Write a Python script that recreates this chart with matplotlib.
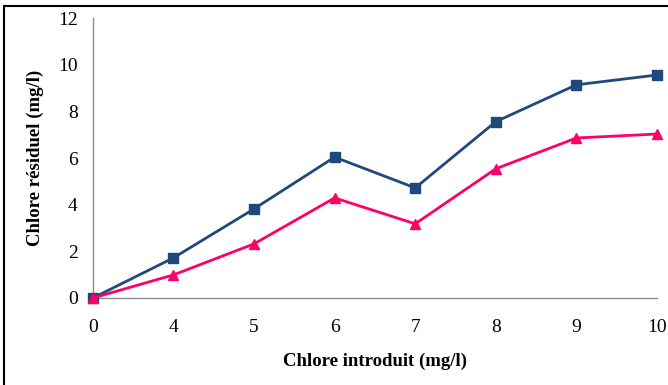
import numpy as np
import matplotlib.pyplot as plt
from matplotlib.patches import Rectangle

# Donnees
chlore_introduit = ["0", "4", "5", "6", "7", "8", "9", "10"]
residuel_1 = [0, 1.72, 3.82, 6.04, 4.72, 7.56, 9.14, 9.56]
residuel_2 = [0, 0.99, 2.32, 4.29, 3.18, 5.54, 6.86, 7.03]
yticks = [0, 2, 4, 6, 8, 10, 12]

plt.rcParams['font.family'] = ['Liberation Serif', 'DejaVu Serif']

fig = plt.figure(figsize=(6.68, 3.85), dpi=100)
ax = fig.add_axes([0.139, 0.226, 0.8445, 0.727])

x = np.arange(len(chlore_introduit))
ax.plot(x, residuel_1, color="#1F497D", lw=2, marker="s", ms=7, clip_on=False, zorder=3)
ax.plot(x, residuel_2, color="#FF0066", lw=2, marker="^", ms=7, clip_on=False, zorder=3)

ax.set_xlim(0, len(x) - 1)
ax.set_ylim(0, 12)
ax.set_xticks(x)
ax.set_xticklabels(chlore_introduit)
ax.set_yticks(yticks)
ax.tick_params(length=0, labelsize=14)
ax.tick_params(axis="x", pad=15)
ax.tick_params(axis="y", pad=11)

for s in ["top", "right"]:
    ax.spines[s].set_visible(False)
for s in ["left", "bottom"]:
    ax.spines[s].set_color("#8C8C8C")
    ax.spines[s].set_linewidth(1)

ax.set_xlabel("Chlore introduit (mg/l)", fontsize=13.5, fontweight="bold", labelpad=12)
ax.set_ylabel("Chlore résiduel (mg/l)", fontsize=13.5, fontweight="bold", labelpad=10)

# cadre autour de la figure
fig.patches.append(Rectangle((4 / 668, -0.1), 1.1, 1 - 6 / 385 + 0.1, transform=fig.transFigure,
                             fill=False, edgecolor="black", lw=1.5))

plt.savefig("out.png", dpi=100)
